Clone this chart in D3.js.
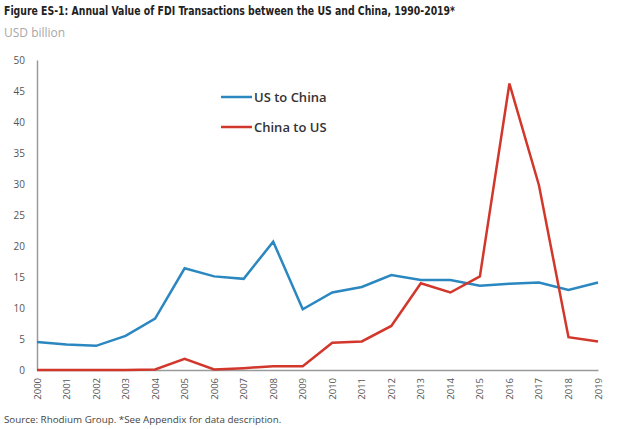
<!DOCTYPE html>
<html>
<head>
<meta charset="utf-8">
<script src="https://cdn.jsdelivr.net/npm/d3@7"></script>
<style>
  body { margin: 0; background: #fff; }
  text { font-family: "Open Sans", "DejaVu Sans", sans-serif; }
</style>
</head>
<body>
<div id="chart"></div>
<script>
const years = d3.range(2000, 2020);
const usToChina = [4.5, 4.1, 3.9, 5.5, 8.3, 16.4, 15.1, 14.7, 20.7, 9.8,
  12.5, 13.4, 15.3, 14.5, 14.5, 13.6, 13.9, 14.1, 12.9, 14.1];
const chinaToUs = [0, 0, 0, 0, 0.1, 1.8, 0.1, 0.3, 0.6, 0.6,
  4.4, 4.6, 7.1, 14.0, 12.5, 15.1, 46.2, 29.8, 5.3, 4.6];
const yTicks = [0, 5, 10, 15, 20, 25, 30, 35, 40, 45, 50];
const seriesNames = ["US to China", "China to US"];

const colors = {
  blue: "#2b87c0",
  red: "#d2372b",
  axis: "#9a9a9a",
  tick: "#555",
  title: "#222",
  sub: "#a8a8a8"
};

const width = 640, height = 429;
const margin = { top: 60, right: 40, bottom: 59, left: 37 };

const svg = d3.select("#chart")
  .append("svg")
  .attr("width", width)
  .attr("height", height);

const x = d3.scaleLinear()
  .domain([2000, 2019])
  .range([margin.left, width - margin.right - 2]);
const y = d3.scaleLinear()
  .domain([0, 50])
  .range([height - margin.bottom, margin.top]);

// Title & subtitle
svg.append("text")
  .attr("x", 4).attr("y", 15)
  .attr("textLength", 451).attr("lengthAdjust", "spacingAndGlyphs")
  .style("font-family", "'DejaVu Sans Condensed', 'Liberation Sans Narrow', sans-serif")
  .style("font-weight", "bold").style("font-size", "12px")
  .attr("fill", colors.title)
  .text("Figure ES-1: Annual Value of FDI Transactions between the US and China, 1990-2019*");
svg.append("text")
  .attr("x", 4).attr("y", 37)
  .style("font-size", "12px")
  .attr("fill", colors.sub)
  .text("USD billion");

// Y axis
const yAxis = svg.append("g")
  .attr("transform", `translate(${margin.left},0)`)
  .call(d3.axisLeft(y).tickValues(yTicks).tickSize(0).tickPadding(12));
yAxis.select(".domain").attr("stroke", colors.axis).attr("stroke-width", 1.5);
yAxis.selectAll("text").attr("fill", colors.tick).style("font-size", "10px");

// X axis
const xAxis = svg.append("g")
  .attr("transform", `translate(0,${y(0)})`)
  .call(d3.axisBottom(x).tickValues(years).tickFormat(d3.format("d")).tickSize(0));
xAxis.select(".domain").attr("stroke", colors.axis).attr("stroke-width", 1.5);
xAxis.selectAll("text")
  .attr("fill", colors.tick).style("font-size", "9.5px")
  .attr("text-anchor", "end")
  .attr("transform", "rotate(-90)")
  .attr("x", -8).attr("y", 0).attr("dy", "0.32em");

// Lines
const line = d3.line()
  .x((d, i) => x(years[i]))
  .y(d => y(d));

svg.append("path")
  .datum(usToChina)
  .attr("d", line)
  .attr("fill", "none")
  .attr("stroke", colors.blue)
  .attr("stroke-width", 2.5)
  .attr("stroke-linejoin", "miter");

svg.append("path")
  .datum(chinaToUs)
  .attr("d", line)
  .attr("fill", "none")
  .attr("stroke", colors.red)
  .attr("stroke-width", 2.5)
  .attr("stroke-linejoin", "miter");

// Legend
const legend = svg.append("g").attr("transform", "translate(221,97)");
[colors.blue, colors.red].forEach((c, i) => {
  const g = legend.append("g").attr("transform", `translate(0,${i * 30})`);
  g.append("line").attr("x1", 0).attr("x2", 31).attr("y1", 0).attr("y2", 0)
    .attr("stroke", c).attr("stroke-width", 2.5);
  g.append("text").attr("x", 33).attr("y", 0).attr("dy", "0.35em")
    .style("font-size", "13px").style("font-weight", 600)
    .attr("fill", "#333")
    .text(seriesNames[i]);
});

// Source
svg.append("text")
  .attr("x", 4).attr("y", 423)
  .style("font-size", "9.8px")
  .attr("fill", "#444")
  .text("Source: Rhodium Group. *See Appendix for data description.");
</script>
</body>
</html>
